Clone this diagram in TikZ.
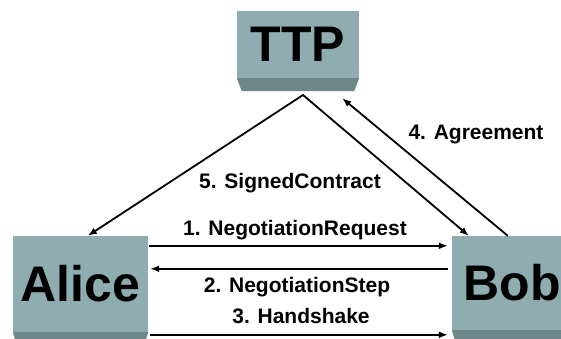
\documentclass[tikz,border=0pt]{standalone}
\usepackage{fontspec}
\setmainfont{Liberation Sans}
\usetikzlibrary{arrows.meta}
\definecolor{boxface}{RGB}{143,173,176}
\definecolor{boxshade}{RGB}{110,136,138}
\tikzstyle{party}=[fill=boxface, inner sep=0pt, font=\fontsize{50}{60}\selectfont\bfseries]
\tikzstyle{bevel}=[fill=boxshade]
\tikzstyle{msg}=[-{Latex[length=9pt,width=7pt]}, line width=1.8pt]
\tikzstyle{msglabel}=[anchor=base, inner sep=0pt, font=\fontsize{21}{25}\selectfont\bfseries]
\newcommand{\drawbevel}[3]{
\fill[bevel] (#1.south west) -- (#1.south east) -- ([shift={(-#3,#2)}]#1.south east) -- ([shift={(#3,#2)}]#1.south west) -- cycle;
}
\begin{document}
\begin{tikzpicture}[x=1pt,y=-1pt]
  \useasboundingbox (0,0) rectangle (561,338);
  \clip (0,0) rectangle (561,338);
  % the three parties
  \node[party, minimum width=122pt, minimum height=67pt] (ttp) at (298,44.5) {TTP};
  \node[party, minimum width=135pt, minimum height=96pt] (alice) at (80.5,284) {Alice};
  \node[party, minimum width=120pt, minimum height=94pt] (bob) at (512,283) {Bob};
  \drawbevel{ttp}{13}{5}
  \drawbevel{alice}{13}{4}
  \drawbevel{bob}{13}{4}

  % messages
  \coordinate (apex) at (303,95);
  \draw[{Latex[length=9pt,width=7pt]}-{Latex[length=9pt,width=7pt]}, line width=1.8pt]
    ([shift={(75,0)}]alice.north west) -- (apex) -- ([shift={(17,0)}]bob.north west);
  \draw[msg] ([shift={(56,0)}]bob.north west) -- ([shift={(-17,20)}]ttp.south east);
  \draw[msg] ([shift={(1,10)}]alice.north east) -- ([shift={(-4,10)}]bob.north west);
  \draw[msg] ([shift={(-4,33)}]bob.north west) -- ([shift={(2,33)}]alice.north east);
  \draw[msg] ([shift={(2,99)}]alice.north east) -- ([shift={(-4,99)}]bob.north west);

  \node[msglabel] (l5) at (290,188) {5. SignedContract};
  \node[msglabel] (l4) at (476,139) {4. Agreement};
  \node[msglabel] (l1) at (295,235) {1. NegotiationRequest};
  \node[msglabel] (l2) at (297,292) {2. NegotiationStep};
  \node[msglabel] (l3) at (301,323) {3. Handshake};
\end{tikzpicture}
\end{document}
